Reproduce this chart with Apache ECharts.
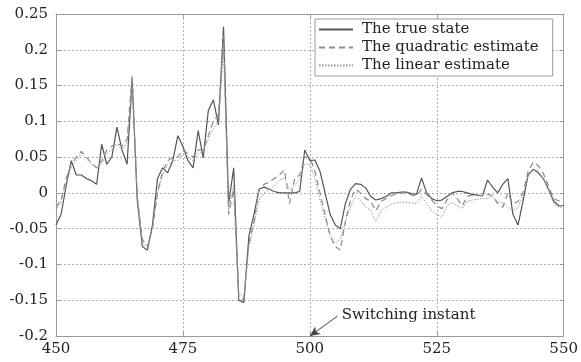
<!DOCTYPE html>
<html>
<head>
<meta charset="utf-8">
<script src="https://cdn.jsdelivr.net/npm/echarts@6/dist/echarts.min.js"></script>
<style>
  html, body { margin: 0; padding: 0; background: #fff; }
  #chart { width: 581px; height: 362px; }
</style>
</head>
<body>
<div id="chart"></div>
<script>
// sample index 450..550, one value per step
var firstStep = 450;
var trueState = [
  -0.045, -0.03, 0.01, 0.045, 0.025, 0.025, 0.02, 0.017, 0.012, 0.068,
  0.04, 0.05, 0.092, 0.06, 0.04, 0.158, -0.01, -0.075, -0.08, -0.045,
  0.02, 0.035, 0.028, 0.045, 0.08, 0.065, 0.045, 0.035, 0.087, 0.049,
  0.115, 0.13, 0.095, 0.232, -0.015, 0.035, -0.15, -0.153, -0.06, -0.03,
  0.005, 0.008, 0.005, 0.002, 0.0, 0.0, 0.0, 0.0, 0.002, 0.06,
  0.045, 0.046, 0.03, 0.0, -0.03, -0.045, -0.05, -0.015, 0.005, 0.013,
  0.012, 0.007, -0.005, -0.01, -0.008, -0.005, 0.0, 0.0, 0.001, 0.001,
  -0.001, -0.002, 0.021, 0.0, -0.008, -0.011, -0.01, -0.005, 0.0, 0.002,
  0.002, 0.0, -0.002, -0.003, -0.004, 0.018, 0.008, 0.0, 0.012, 0.02,
  -0.03, -0.045, -0.011, 0.025, 0.033, 0.028, 0.02, 0.005, -0.011, -0.018,
  -0.018
];
var quadEst = [
  -0.02, -0.01, 0.02, 0.04, 0.05, 0.058, 0.05, 0.042, 0.035, 0.045,
  0.06, 0.065, 0.07, 0.065, 0.075, 0.165, -0.005, -0.065, -0.075, -0.05,
  0.0, 0.03, 0.045, 0.05, 0.05, 0.06, 0.055, 0.05, 0.06, 0.06,
  0.08, 0.1, 0.11, 0.22, -0.03, 0.005, -0.145, -0.15, -0.07, -0.04,
  0.005, 0.012, 0.015, 0.02, 0.025, 0.032, -0.015, 0.02, 0.025, 0.05,
  0.05, 0.03, 0.0, -0.03, -0.06, -0.075, -0.08, -0.04, -0.01, 0.005,
  0.0, -0.008, -0.012, -0.025, -0.012, -0.008, -0.004, -0.002, 0.0, 0.0,
  -0.003, -0.004, 0.005, -0.002, -0.01, -0.018, -0.022, -0.01, 0.0, -0.008,
  -0.018, -0.005, -0.003, -0.004, -0.004, -0.002, -0.004, -0.015, -0.02, 0.0,
  -0.015, -0.012, 0.0, 0.03, 0.043, 0.038, 0.027, 0.01, -0.008, -0.011,
  -0.011
];
var linEst = [
  -0.025, -0.012, 0.015, 0.035, 0.045, 0.055, 0.048, 0.04, 0.035, 0.04,
  0.055, 0.06, 0.068, 0.06, 0.07, 0.15, -0.005, -0.07, -0.075, -0.05,
  0.0, 0.025, 0.04, 0.045, 0.045, 0.055, 0.05, 0.045, 0.055, 0.058,
  0.075, 0.09, 0.1, 0.2, -0.025, 0.01, -0.14, -0.145, -0.075, -0.045,
  -0.01, 0.0, 0.005, 0.01, 0.018, 0.02, 0.005, 0.01, 0.02, 0.04,
  0.04, 0.02, -0.01, -0.035, -0.06, -0.07, -0.065, -0.04, -0.02, -0.005,
  -0.01, -0.02, -0.025, -0.04, -0.025, -0.02, -0.016, -0.014, -0.013, -0.013,
  -0.014, -0.015, -0.005, -0.015, -0.025, -0.03, -0.034, -0.018, -0.013, -0.018,
  -0.022, -0.012, -0.01, -0.009, -0.008, -0.008, -0.005, -0.012, -0.014, -0.02,
  -0.025, -0.02, -0.005, 0.025, 0.033, 0.03, 0.02, 0.005, -0.015, -0.02,
  -0.02
];
var seriesNames = ['The true state', 'The quadratic estimate', 'The linear estimate'];
var xRange = [450, 550, 25];
var yRange = [-0.2, 0.25, 0.05];
var switchStep = 500;
var switchText = 'Switching instant';

function pairs(vals) {
  var out = [];
  for (var i = 0; i < vals.length; i++) {
    out.push([firstStep + i, vals[i]]);
  }
  return out;
}

var font = 'DejaVu Serif';
var frameColor = '#9a9a9a';
var chart = echarts.init(document.getElementById('chart'));

function axisCommon(showLabels) {
  return {
    axisLine: { show: true, onZero: false, lineStyle: { color: frameColor, width: 1 } },
    axisTick: { show: true, inside: true, length: 4, lineStyle: { color: frameColor } },
    axisLabel: {
      show: showLabels, color: '#222', fontFamily: font, fontSize: 15,
      formatter: function (v) { return String(+v.toFixed(2)); }
    }
  };
}

var xMain = axisCommon(true);
xMain.type = 'value'; xMain.min = xRange[0]; xMain.max = xRange[1]; xMain.interval = xRange[2];
xMain.position = 'bottom';
xMain.axisLabel.margin = 6;
xMain.splitLine = { show: true, lineStyle: { color: '#b0b0b0', type: [2, 2], width: 1 } };
var xTop = axisCommon(false);
xTop.type = 'value'; xTop.min = xRange[0]; xTop.max = xRange[1]; xTop.interval = xRange[2];
xTop.position = 'top'; xTop.splitLine = { show: false };

var yMain = axisCommon(true);
yMain.type = 'value'; yMain.min = yRange[0]; yMain.max = yRange[1]; yMain.interval = yRange[2];
yMain.position = 'left';
yMain.axisLabel.margin = 8;
yMain.splitLine = { show: true, lineStyle: { color: '#b0b0b0', type: [2, 2], width: 1 } };
var yRight = axisCommon(false);
yRight.type = 'value'; yRight.min = yRange[0]; yRight.max = yRange[1]; yRight.interval = yRange[2];
yRight.position = 'right'; yRight.splitLine = { show: false };

var option = {
  animation: false,
  backgroundColor: '#fff',
  grid: { left: 56, right: 14, top: 14, bottom: 26 },
  xAxis: [xMain, xTop],
  yAxis: [yMain, yRight],
  legend: {
    left: 315, top: 19,
    orient: 'vertical',
    backgroundColor: '#fff',
    borderColor: frameColor, borderWidth: 1,
    padding: [3, 14, 3, 3],
    itemGap: 3,
    itemWidth: 34, itemHeight: 15,
    itemStyle: { color: 'rgba(0,0,0,0)', borderWidth: 0, opacity: 0 },
    textStyle: { fontFamily: font, fontSize: 15, color: '#222', padding: [0, 0, 0, 4] },
    data: seriesNames
  },
  series: [
    {
      name: seriesNames[0], type: 'line', data: pairs(trueState),
      symbol: 'none', lineStyle: { color: '#555', width: 1.2, type: 'solid' },
      itemStyle: { color: '#555' },
      markLine: {
        silent: true,
        symbol: ['arrow', 'none'], symbolSize: [7, 10],
        lineStyle: { color: '#444', width: 1, type: 'solid' },
        label: { show: false },
        data: [[{ coord: [switchStep, yRange[0]] }, { coord: [505.5, -0.172] }]]
      },
      markPoint: {
        silent: true,
        symbol: 'circle', symbolSize: 1,
        itemStyle: { color: 'rgba(0,0,0,0)' },
        label: {
          show: true, position: 'right', distance: 2,
          formatter: switchText,
          fontFamily: font, fontSize: 15, color: '#222'
        },
        data: [{ coord: [505.8, -0.171] }]
      }
    },
    {
      name: seriesNames[1], type: 'line', data: pairs(quadEst),
      symbol: 'none', lineStyle: { color: '#8a8a8a', width: 1.2, type: [6, 4] },
      itemStyle: { color: '#8a8a8a' }
    },
    {
      name: seriesNames[2], type: 'line', data: pairs(linEst),
      symbol: 'none', lineStyle: { color: '#9a9a9a', width: 1, type: [1.5, 1.5] },
      itemStyle: { color: '#9a9a9a' }
    }
  ]
};
chart.setOption(option);
</script>
</body>
</html>
